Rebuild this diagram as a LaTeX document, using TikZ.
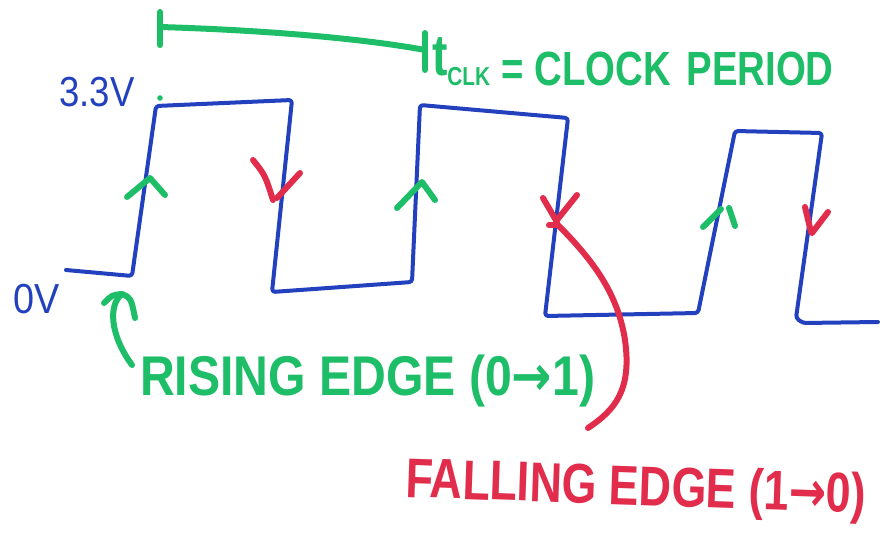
\documentclass[tikz,border=0pt]{standalone}
\usepackage{fontspec}
\setmainfont{Liberation Sans}
\newfontfamily\arrowfont{DejaVu Sans}
\usepackage{graphicx}
\definecolor{penblue}{RGB}{35,65,190}
\definecolor{pengreen}{RGB}{30,190,105}
\definecolor{penred}{RGB}{225,45,75}
\newcommand\handtext[2]{\scalebox{#1}[1]{#2}}
\newcommand\penarrow{{\arrowfont\bfseries →}}
\begin{document}
\begin{tikzpicture}[x=1pt,y=-1pt,
  wave/.style={penblue, line width=4pt, line join=round, line cap=round},
  gmark/.style={pengreen, line width=6pt, line cap=round, line join=round},
  rmark/.style={penred, line width=6pt, line cap=round, line join=round},
  lbl/.style={inner sep=0pt, outer sep=0pt, font=\bfseries}]
\useasboundingbox (0,0) rectangle (887,533);
\fill[white] (0,0) rectangle (887,533);

% waveform
\draw[wave, rounded corners=3pt] (66,270) -- (132,276) -- (156,106) -- (292,100) -- (272,292)
  -- (412,282) -- (420,105) -- (568,118) -- (545,316) -- (698,313)
  -- (735,131) -- (822,133) -- (796,318) -- (803,323) -- (878,322);

% level labels
\node[lbl, penblue, anchor=base, font=\mdseries] (vhigh) at (97,106)
  {\handtext{0.87}{\fontsize{42}{44}\selectfont 3.3V}};
\node[lbl, penblue, anchor=base, font=\mdseries] (vlow) at (37,313)
  {\handtext{0.9}{\fontsize{42}{44}\selectfont 0V}};

% clock period bar
\fill[pengreen] (160,98) circle (2.8pt);
\draw[gmark] (160,12) -- (160,45);
\draw[gmark] (425,33) -- (425,70);
\draw[gmark] (160,27) .. controls (260,30) and (360,38) .. (425,50);
\node[lbl, pengreen, anchor=base west] (period) at (432,85)
  {\handtext{0.8}{\raisebox{10pt}{\fontsize{58}{60}\selectfont t}{\fontsize{26}{26}\selectfont CLK}\hspace{14pt}\fontsize{48}{50}\selectfont = CLOCK\hspace{6pt} PERIOD}};

% rising edge markers
\draw[gmark] (127,197) -- (150,178) -- (165,195);
\draw[gmark] (397,208) -- (422,182) -- (435,200);
\draw[gmark] (703,227) -- (721,209);
\draw[gmark] (729,208) -- (735,226);

% falling edge markers
\draw[rmark] (253,160) .. controls (265,175) .. (273,200);
\draw[rmark] (300,173) -- (277,198);
\draw[rmark] (543,198) -- (557,222);
\draw[rmark] (577,195) -- (557,220);
\draw[rmark] (549,225) -- (557,225);
\draw[rmark] (805,207) -- (811,232);
\draw[rmark] (828,212) -- (812,233);

% rising edge label and arrow
\node[lbl, pengreen, anchor=base west] (rise) at (140,395)
  {\handtext{0.86}{\fontsize{56}{60}\selectfont RISING EDGE (0\penarrow 1)}};
\coordinate (risetail) at (132,365);
\coordinate (risetip) at (122,294);
\draw[gmark] (risetail) .. controls (110,335) and (108,305) .. (risetip);
\draw[gmark] (104,303) .. controls (112,295) .. (risetip) .. controls (131,298) .. (135,318);

% falling edge label and curve
\node[lbl, penred, anchor=base west, rotate=-2] (fall) at (405,497)
  {\handtext{0.8}{\fontsize{56}{60}\selectfont FALLING EDGE (1\penarrow 0)}};
\coordinate (falltail) at (588,428);
\coordinate (falltip) at (557,224);
\draw[rmark] (falltip) .. controls (595,262) and (618,295) .. (625,340)
  .. controls (632,390) and (615,410) .. (falltail);
\end{tikzpicture}
\end{document}
